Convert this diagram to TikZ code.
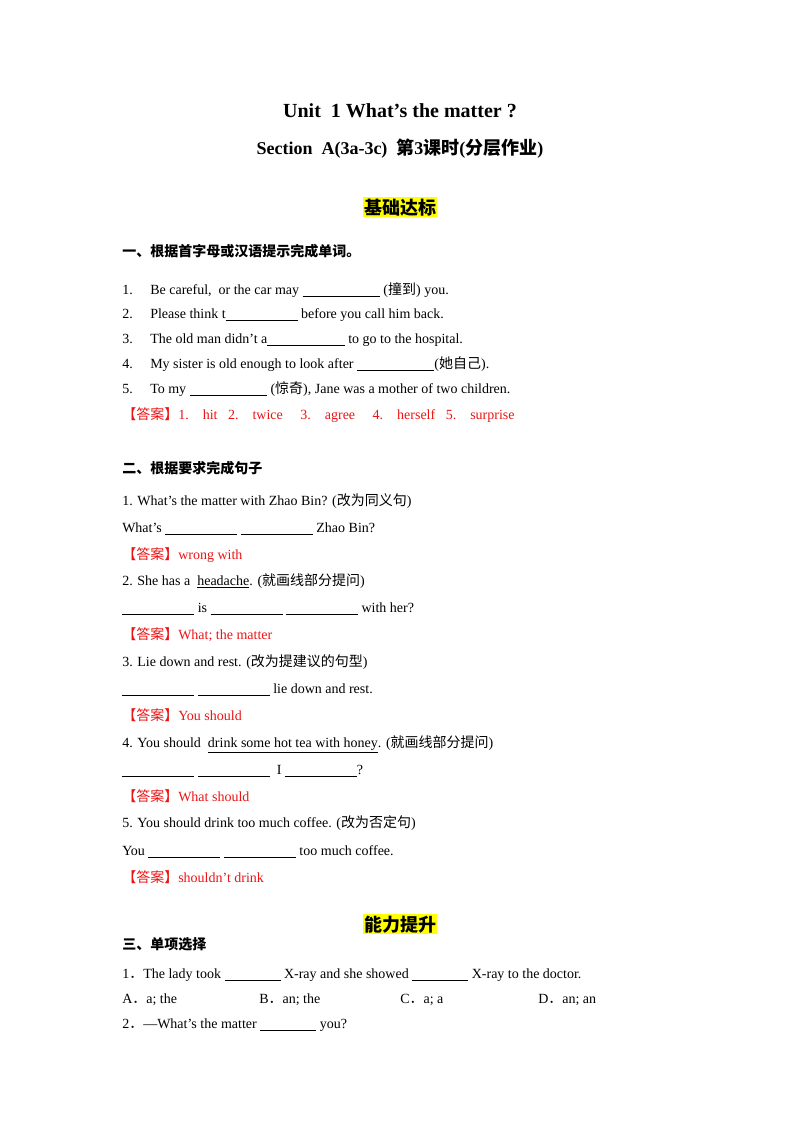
\documentclass[tikz,border=0pt]{standalone}
\usepackage{fontspec}
\setmainfont{Liberation Serif}
\newfontfamily\cjk{Noto Sans CJK SC}
\newcommand\zh[1]{{\cjk #1}}
\newcommand\blank[1]{\underline{\hspace{#1}}}
\definecolor{ansred}{RGB}{235,20,20}
\definecolor{hilite}{RGB}{255,255,0}
\begin{document}
\begin{tikzpicture}[x=0.75pt,y=-0.75pt,
    line/.style={anchor=base west,inner sep=0pt,font=\fontsize{10.5}{12}\selectfont},
    answer/.style={line,text=ansred},
    heading/.style={line,font=\fontsize{10.5}{12}\selectfont\bfseries\cjk},
    banner/.style={anchor=base,fill=hilite,inner sep=1pt,font=\fontsize{13.5}{15}\selectfont\bfseries\cjk}]
\useasboundingbox (0,0) rectangle (800,1132);
\node[anchor=base,inner sep=0pt,font=\fontsize{15}{18}\selectfont\bfseries] (title) at (400,117) {Unit\ \ 1 What’s the matter ?};
\node[anchor=base,inner sep=0pt,font=\fontsize{13.5}{16}\selectfont\bfseries] (sect) at (400,154) {Section\ \ A(3a-3c)\ \ \zh{第}3\zh{课时}(\zh{分层作业})};
\node[banner] (basic) at (400,214) {基础达标};
\node[heading] (h1) at (122,256) {一、根据首字母或汉语提示完成单词。};
% part one
\foreach \n/\y/\t in {1/294/{Be careful,\ \ or the car may \blank{58pt} (\zh{撞到}) you.},
    2/318/{Please think t\blank{54pt} before you call him back.},
    3/343/{The old man didn't a\blank{58pt} to go to the hospital.},
    4/368/{My sister is old enough to look after \blank{58pt}(\zh{她自己}).},
    5/393/{To my \blank{58pt} (\zh{惊奇}), Jane was a mother of two children.}}
{
    \node[line] (n\n) at (122,\y) {\n.};
    \node[line] (t\n) at (150,\y) {\t};
}
\node[answer] (a1) at (122,419) {\zh{【答案】}1.\ \ \ \ hit\ \ \ 2.\ \ \ \ twice\ \ \ \ \ 3.\ \ \ \ agree\ \ \ \ \ 4.\ \ \ \ herself\ \ \ 5.\ \ \ \ surprise};
% part two
\node[heading] (h2) at (122,473) {二、根据要求完成句子};
\node[line] (q1) at (122,505) {1. What’s the matter with Zhao Bin? (\zh{改为同义句})};
\node[line] (f1) at (122,532) {What’s \blank{54pt} \blank{54pt} Zhao Bin?};
\node[answer] (a21) at (122,559) {\zh{【答案】}wrong with};
\node[line] (q2) at (122,585) {2. She has a\ \ \underline{headache}. (\zh{就画线部分提问})};
\node[line] (f2) at (122,612) {\blank{54pt} is \blank{54pt} \blank{54pt} with her?};
\node[answer] (a22) at (122,639) {\zh{【答案】}What; the matter};
\node[line] (q3) at (122,666) {3. Lie down and rest. (\zh{改为提建议的句型})};
\node[line] (f3) at (122,693) {\blank{54pt} \blank{54pt} lie down and rest.};
\node[answer] (a23) at (122,720) {\zh{【答案】}You should};
\node[line] (q4) at (122,747) {4. You should\ \ \underline{drink some hot tea with honey}. (\zh{就画线部分提问})};
\node[line] (f4) at (122,774) {\blank{54pt} \blank{54pt}\ \ I \blank{54pt}?};
\node[answer] (a24) at (122,801) {\zh{【答案】}What should};
\node[line] (q5) at (122,827) {5. You should drink too much coffee. (\zh{改为否定句})};
\node[line] (f5) at (122,855) {You \blank{54pt} \blank{54pt} too much coffee.};
\node[answer] (a25) at (122,882) {\zh{【答案】}shouldn’t drink};
% part three
\node[banner] (adv) at (400,931) {能力提升};
\node[heading] (h3) at (122,949) {三、单项选择};
\node[line] (c1) at (122,978) {1\zh{．}The lady took \blank{42pt} X-ray and she showed \blank{42pt} X-ray to the doctor.};
\node[line] (oa) at (122,1003) {A\zh{．}a; the};
\node[line] (ob) at (259,1003) {B\zh{．}an; the};
\node[line] (oc) at (400,1003) {C\zh{．}a; a};
\node[line] (od) at (538,1003) {D\zh{．}an; an};
\node[line] (c2) at (122,1028) {2\zh{．}—What’s the matter \blank{42pt} you?};
\end{tikzpicture}
\end{document}
